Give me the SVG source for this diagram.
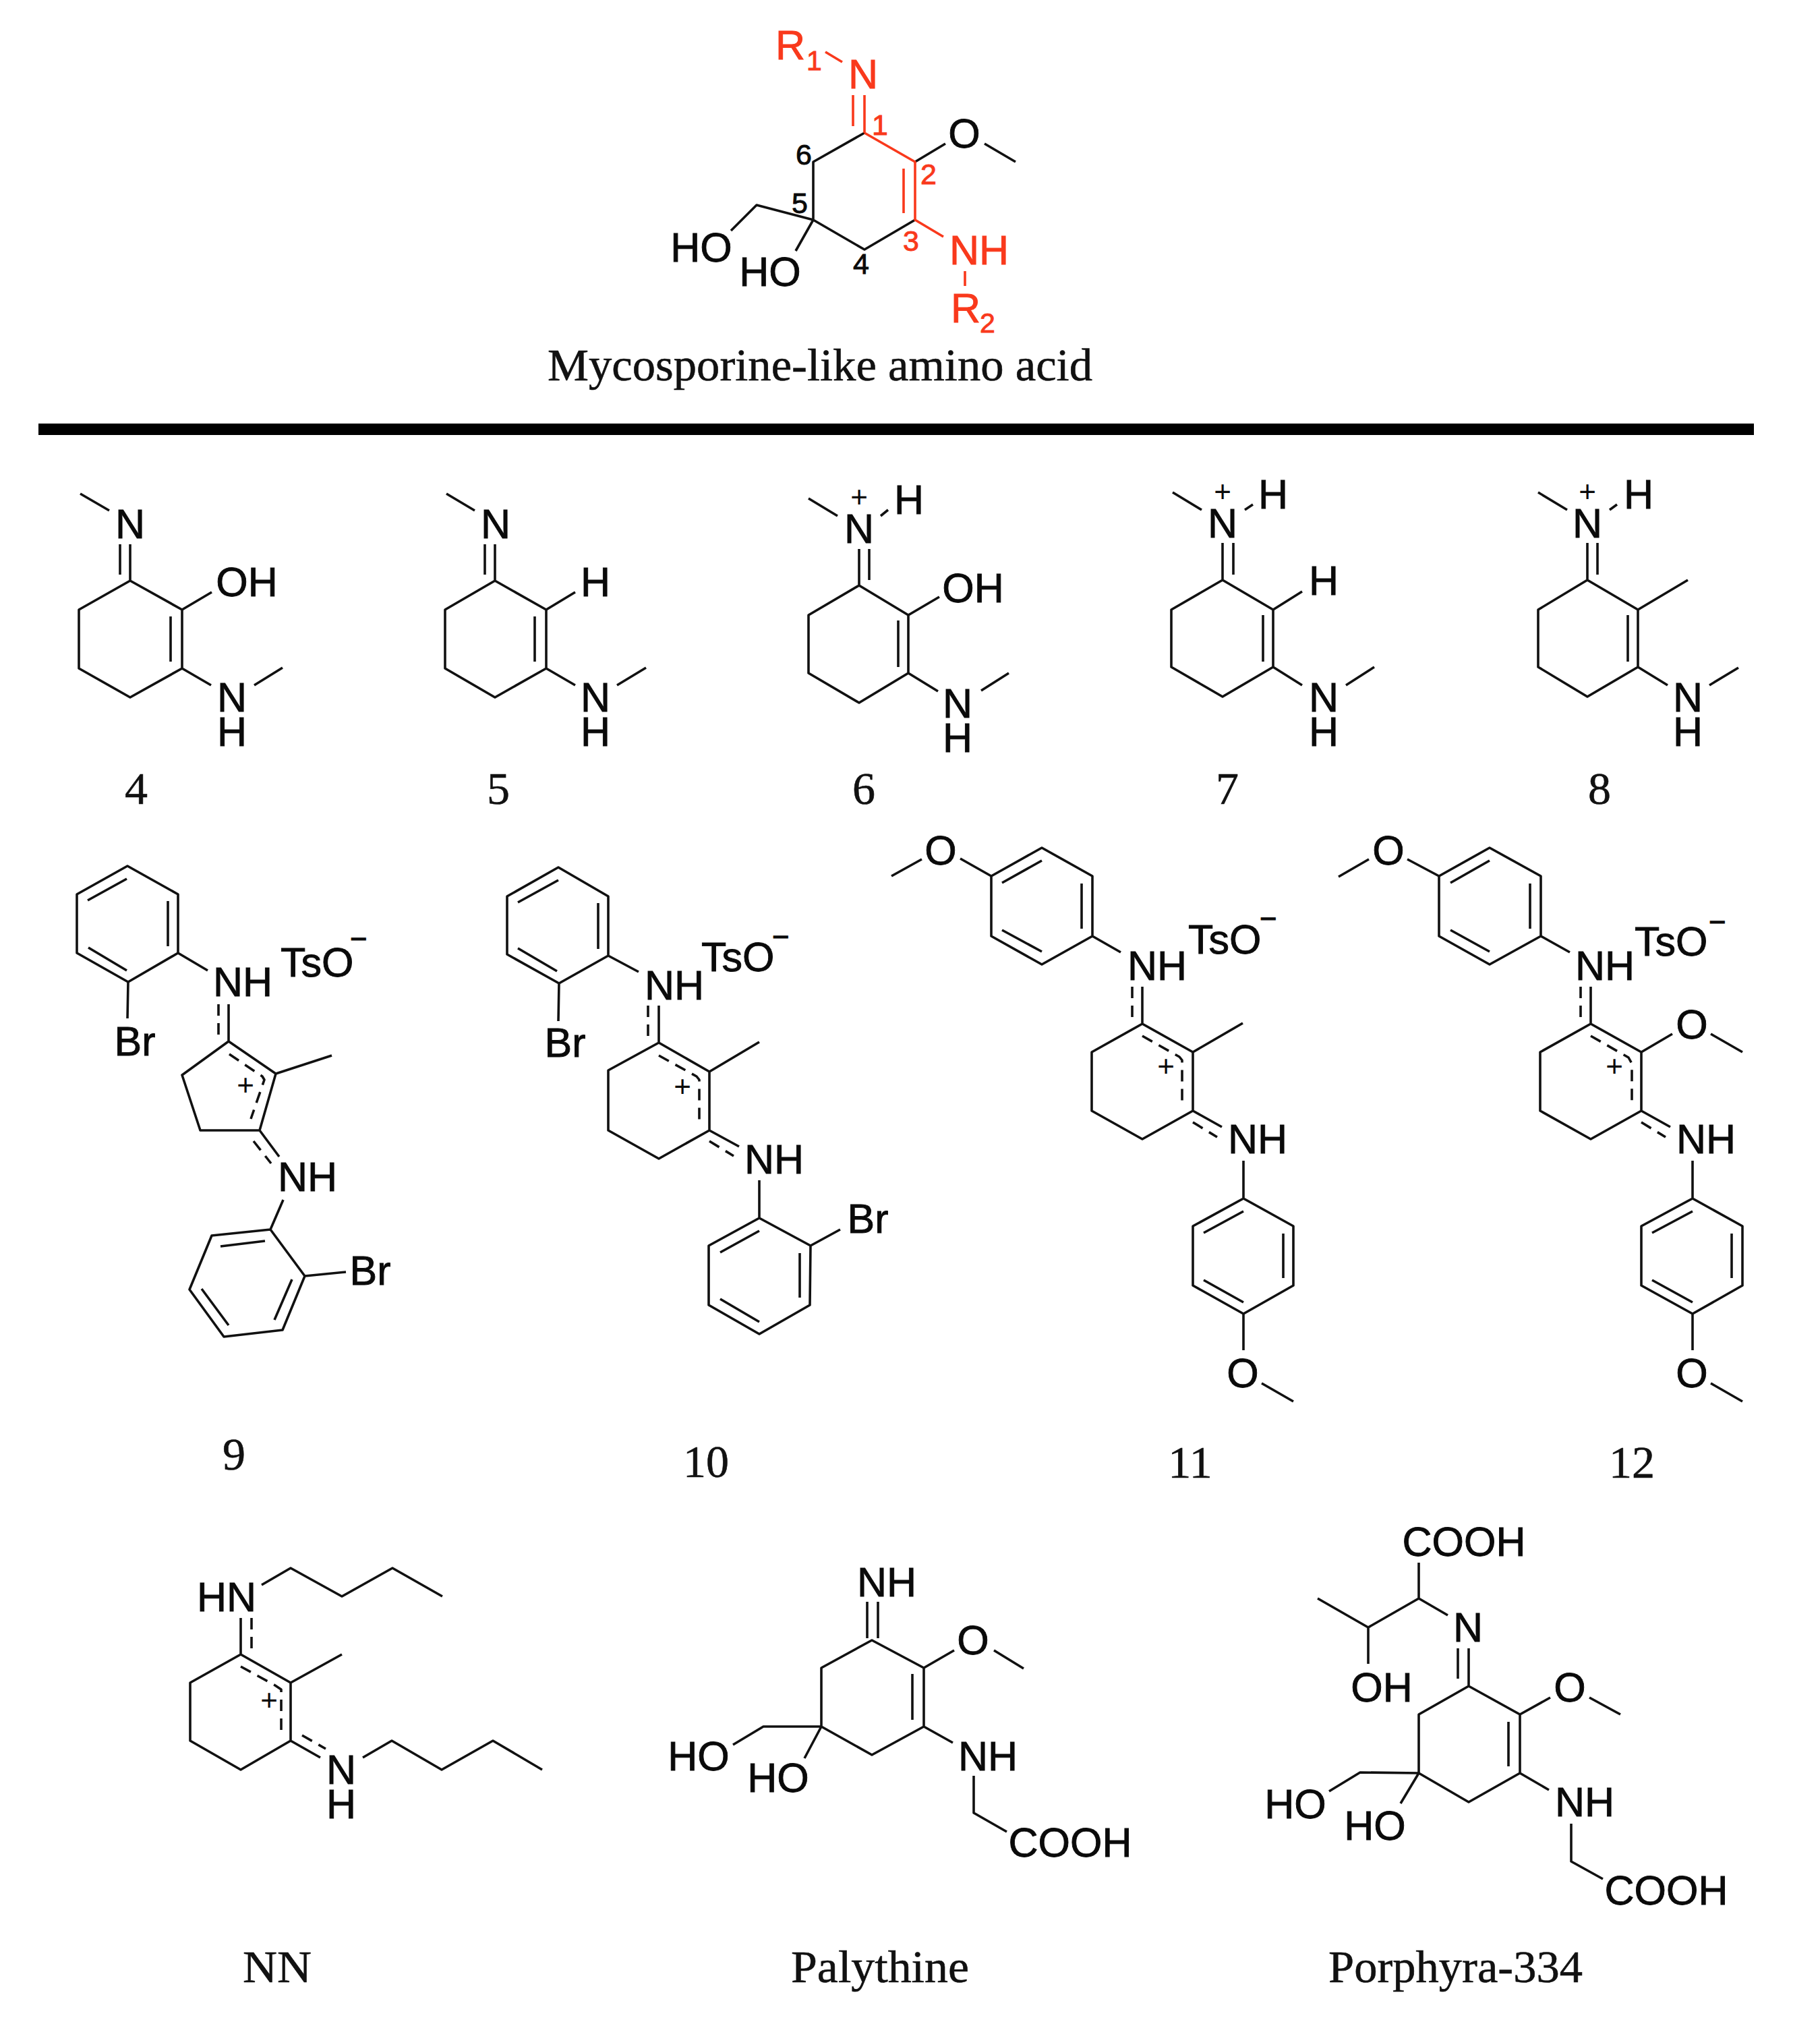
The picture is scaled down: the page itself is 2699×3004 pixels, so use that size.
<svg xmlns="http://www.w3.org/2000/svg" width="2699" height="3004" viewBox="0 0 2699 3004">
<style>
.b{fill:none;stroke:#111;stroke-width:3.6;stroke-linejoin:round}
.r{fill:none;stroke:#f9391c;stroke-width:3.6;stroke-linejoin:round}
.d{fill:none;stroke:#111;stroke-width:3.6;stroke-dasharray:17 11;stroke-linejoin:round}
text{font-family:"Liberation Sans",Arial,sans-serif;font-size:61px;fill:#0a0a0a;stroke:#0a0a0a;stroke-width:.9;text-anchor:middle}
.red{fill:#f9391c;stroke:#f9391c}
.s{font-family:"Liberation Serif","Times New Roman",serif;font-size:68px;fill:#111;stroke:#111;stroke-width:.6}
.c{text-anchor:start}
.n{font-size:43px}
.p{font-size:44px;stroke-width:0}
.m{font-size:44px}
.u{font-size:41px}
</style>
<rect id="background" x="0" y="0" width="2699" height="3004" fill="#fff"/>
<rect id="divider" x="57" y="628" width="2544" height="17" fill="#000"/>
<g id="connectors">
<g id="bonds-mycosporine">
<path class="b" d="M1357 326L1282 370L1206 326L1206 240L1282 197M1206 326L1122 304L1084 342M1206 326L1180 372M1357 240L1402 213M1460 213L1506 240"/>
<path class="r" d="M1282 197L1357 240L1357 326L1399 351M1340 250V316M1282 141V197M1265 141V187M1224 77L1249 92M1431 402V424"/>
</g>
<g id="bonds-4">
<path class="b" d="M193 861L270 904L270 991L193 1034L117 991L117 904ZM253 914V981M193 807V861M178 807V852M119 732L162 757M270 904L314 878M270 991L313 1016M377 1016L419 990"/>
</g>
<g id="bonds-5">
<path class="b" d="M734 861L810 904L810 991L734 1034L660 991L660 904ZM793 914V981M734 807V861M719 807V852M662 732L704 757M810 904L853 878M810 991L853 1016M915 1016L958 990"/>
</g>
<g id="bonds-6">
<path class="b" d="M1274 868L1347 912L1347 998L1274 1042L1199 998L1199 912ZM1332 920V989M1274 814V868M1289 814V860M1199 739L1242 765M1317 756L1306 765M1347 912L1393 885M1347 998L1391 1025M1455 1024L1496 998"/>
</g>
<g id="bonds-7">
<path class="b" d="M1813 860L1888 904L1888 989L1813 1033L1737 989L1737 904ZM1873 912V981M1813 805V860M1829 805V852M1739 730L1782 756M1858 748L1846 756M1888 904L1931 877M1888 989L1931 1016M1996 1016L2038 989"/>
</g>
<g id="bonds-8">
<path class="b" d="M2354 860L2429 904L2429 989L2354 1033L2281 989L2281 904ZM2414 912V981M2354 805V860M2369 805V852M2281 730L2324 756M2398 748L2387 756M2429 904L2503 860M2429 989L2473 1016M2535 1016L2578 990"/>
</g>
<g id="bonds-9">
<path class="b" d="M189 1284L264 1326L264 1413L190 1456L114 1413L114 1326ZM130 1335L188 1303M249 1336V1403M131 1405L188 1439M190 1456L189 1510M264 1413L308 1439M339 1489V1544M339 1544L409 1592L385 1676L297 1676L270 1594ZM409 1592L492 1565M385 1676L414 1715M420 1779L401 1823M401 1823L452 1892L419 1972L332 1982L281 1912L314 1832ZM327 1848L393 1840M433 1897L407 1957M299 1911L339 1965M452 1892L513 1886"/>
<path class="d" d="M324 1489V1534M340 1563L389 1596L392 1601L372 1659M376 1692L402 1725"/>
</g>
<g id="bonds-10">
<path class="b" d="M828 1286L902 1329L902 1417L829 1458L752 1415L752 1329ZM768 1338L828 1305M887 1339V1407M768 1406L826 1440M829 1458L828 1514M902 1417L947 1441M977 1491V1546M977 1546L1052 1589L1052 1676L977 1718L902 1676L902 1587ZM1052 1589L1126 1545M1052 1676L1096 1700M1126 1750V1806M1126 1806L1202 1847L1201 1935L1126 1978L1051 1935L1051 1847ZM1068 1857L1126 1825M1186 1858V1924M1068 1926L1126 1960M1202 1847L1246 1823"/>
<path class="d" d="M961 1491V1537M977 1565L1033 1596L1037 1601V1667M1052 1692L1088 1714"/>
</g>
<g id="bonds-11">
<path class="b" d="M1545 1257L1620 1299L1620 1388L1545 1430L1470 1388L1470 1299ZM1486 1309L1545 1276M1604 1310V1377M1486 1379L1545 1411M1470 1299L1424 1273M1367 1274L1322 1299M1620 1388L1662 1412M1694 1463V1518M1694 1518L1769 1560L1769 1647L1694 1689L1619 1647L1619 1560ZM1769 1560L1843 1517M1769 1647L1812 1671M1844 1721V1777M1844 1777L1918 1818L1918 1906L1844 1948L1769 1906L1769 1818ZM1785 1828L1844 1796M1903 1829V1895M1785 1898L1844 1931M1844 1948V2002M1871 2051L1918 2078"/>
<path class="d" d="M1679 1463V1508M1694 1536L1749 1567L1753 1572V1637M1769 1664L1805 1686"/>
</g>
<g id="bonds-12">
<path class="b" d="M2209 1257L2285 1299L2285 1388L2209 1430L2134 1388L2134 1299ZM2151 1309L2209 1276M2269 1310V1377M2151 1379L2209 1411M2134 1299L2087 1274M2030 1274L1985 1300M2285 1388L2328 1412M2359 1463V1518M2359 1518L2434 1560L2434 1647L2359 1689L2284 1647L2284 1560ZM2434 1560L2480 1533M2537 1533L2584 1560M2434 1647L2477 1671M2510 1721V1777M2510 1777L2584 1818L2584 1906L2510 1948L2434 1906L2434 1818ZM2450 1828L2510 1796M2568 1829V1895M2450 1898L2510 1931M2510 1948V2002M2537 2051L2584 2078"/>
<path class="d" d="M2344 1463V1508M2359 1536L2415 1568L2420 1577V1637M2434 1664L2470 1686"/>
</g>
<g id="bonds-nn">
<path class="b" d="M388 2350L431 2325L507 2367L582 2325L656 2367M357 2399V2453M357 2453L431 2495L431 2581L357 2624L282 2581L282 2495ZM431 2495L507 2453M431 2581L475 2606M538 2606L581 2581L655 2624L731 2581L804 2624"/>
<path class="d" d="M373 2399V2444M357 2471L408 2499L417 2505V2573M448 2573L483 2593"/>
</g>
<g id="bonds-palythine">
<path class="b" d="M1293 2432L1370 2473L1370 2560L1293 2602L1218 2560L1218 2473ZM1353 2482V2550M1286 2375V2429M1302 2375V2429M1370 2473L1415 2447M1474 2447L1518 2474M1370 2560L1413 2584M1444 2633V2688L1493 2716M1218 2560H1132L1087 2587M1218 2560L1193 2607"/>
</g>
<g id="bonds-porphyra">
<path class="b" d="M2178 2500L2254 2542L2254 2629L2178 2672L2104 2629L2104 2542ZM2237 2553V2619M2162 2444V2489M2178 2444V2500M2104 2317V2370L2029 2413L1954 2370M2029 2413V2467M2104 2370L2147 2395M2254 2542L2299 2517M2357 2517L2403 2542M2254 2629L2297 2654M2330 2704V2760L2377 2786M2104 2629L2017 2628L1971 2656M2104 2629L2077 2674"/>
</g>
</g>
<g id="node-mycosporine">
<text class="c red" x="1150" y="88">R<tspan class="u" x="1196" y="104">1</tspan></text>
<text class="red" x="1280" y="131">N</text>
<text x="1430" y="219">O</text>
<text class="red" x="1452" y="392">NH</text>
<text class="c red" x="1410" y="478">R<tspan class="u" x="1453" y="493">2</tspan></text>
<text x="1040" y="388">HO</text>
<text x="1142" y="424">HO</text>
<text class="n red" x="1305" y="200">1</text>
<text class="n red" x="1377" y="273">2</text>
<text class="n red" x="1351" y="372">3</text>
<text class="n" x="1277" y="406">4</text>
<text class="n" x="1186" y="316">5</text>
<text class="n" x="1192" y="244">6</text>
<text class="s c" x="812" y="564" textLength="808" lengthAdjust="spacingAndGlyphs">Mycosporine-like amino acid</text>
</g>
<g id="node-4">
<text x="193" y="798">N</text><text x="366" y="884">OH</text><text x="344" y="1055">N<tspan x="344" y="1106">H</tspan></text>
<text class="s" x="202" y="1192">4</text>
</g>
<g id="node-5">
<text x="735" y="798">N</text><text x="883" y="884">H</text><text x="883" y="1055">N<tspan x="883" y="1106">H</tspan></text>
<text class="s" x="739" y="1192">5</text>
</g>
<g id="node-6">
<text class="p" x="1274" y="752">+<tspan style="font-size:61px;stroke-width:.9" x="1274" y="805">N</tspan></text><text x="1348" y="762">H</text><text x="1443" y="893">OH</text><text x="1420" y="1064">N<tspan x="1420" y="1115">H</tspan></text>
<text class="s" x="1281" y="1192">6</text>
</g>
<g id="node-7">
<text class="p" x="1813" y="744">+<tspan style="font-size:61px;stroke-width:.9" x="1813" y="797">N</tspan></text><text x="1888" y="754">H</text><text x="1963" y="882">H</text><text x="1963" y="1055">N<tspan x="1963" y="1106">H</tspan></text>
<text class="s" x="1820" y="1192">7</text>
</g>
<g id="node-8">
<text class="p" x="2354" y="744">+<tspan style="font-size:61px;stroke-width:.9" x="2354" y="797">N</tspan></text><text x="2430" y="754">H</text><text x="2503" y="1055">N<tspan x="2503" y="1106">H</tspan></text>
<text class="s" x="2372" y="1192">8</text>
</g>
<g id="node-9">
<text x="200" y="1565">Br</text><text x="360" y="1477">NH</text>
<text class="c" x="416" y="1448">TsO<tspan class="m" x="519" y="1407">−</tspan></text>
<text class="p" x="364" y="1624">+</text><text x="456" y="1766">NH</text><text x="549" y="1905">Br</text>
<text class="s" x="347" y="2179">9</text>
</g>
<g id="node-10">
<text x="838" y="1567">Br</text><text x="1000" y="1482">NH</text>
<text class="c" x="1040" y="1440">TsO<tspan class="m" x="1145" y="1404">−</tspan></text>
<text class="p" x="1012" y="1626">+</text><text x="1148" y="1740">NH</text><text x="1287" y="1828">Br</text>
<text class="s" x="1047" y="2190">10</text>
</g>
<g id="node-11">
<text x="1395" y="1282">O</text><text x="1716" y="1453">NH</text>
<text class="c" x="1762" y="1414">TsO<tspan class="m" x="1868" y="1377">−</tspan></text>
<text class="p" x="1729" y="1596">+</text><text x="1865" y="1710">NH</text><text x="1843" y="2057">O</text>
<text class="s" x="1765" y="2191">11</text>
</g>
<g id="node-12">
<text x="2059" y="1282">O</text><text x="2380" y="1453">NH</text>
<text class="c" x="2424" y="1417">TsO<tspan class="m" x="2534" y="1382">−</tspan></text>
<text x="2509" y="1540">O</text>
<text class="p" x="2394" y="1596">+</text><text x="2530" y="1710">NH</text><text x="2509" y="2057">O</text>
<text class="s" x="2420" y="2191">12</text>
</g>
<g id="node-nn">
<text x="336" y="2389">HN</text><text class="p" x="399" y="2536">+</text><text x="506" y="2645">N<tspan x="506" y="2696">H</tspan></text>
<text class="s c" x="360" y="2939" textLength="102" lengthAdjust="spacingAndGlyphs">NN</text>
</g>
<g id="node-palythine">
<text x="1315" y="2367">NH</text><text x="1443" y="2453">O</text><text x="1465" y="2625">NH</text><text x="1587" y="2753">COOH</text><text x="1036" y="2625">HO</text><text x="1154" y="2657">HO</text>
<text class="s c" x="1173" y="2939" textLength="264" lengthAdjust="spacingAndGlyphs">Palythine</text>
</g>
<g id="node-porphyra">
<text x="2171" y="2307">COOH</text><text x="2049" y="2523">OH</text><text x="2177" y="2434">N</text><text x="2328" y="2523">O</text><text x="2350" y="2693">NH</text><text x="2471" y="2824">COOH</text><text x="1921" y="2696">HO</text><text x="2039" y="2728">HO</text>
<text class="s c" x="1970" y="2939" textLength="377" lengthAdjust="spacingAndGlyphs">Porphyra-334</text>
</g>
</svg>
